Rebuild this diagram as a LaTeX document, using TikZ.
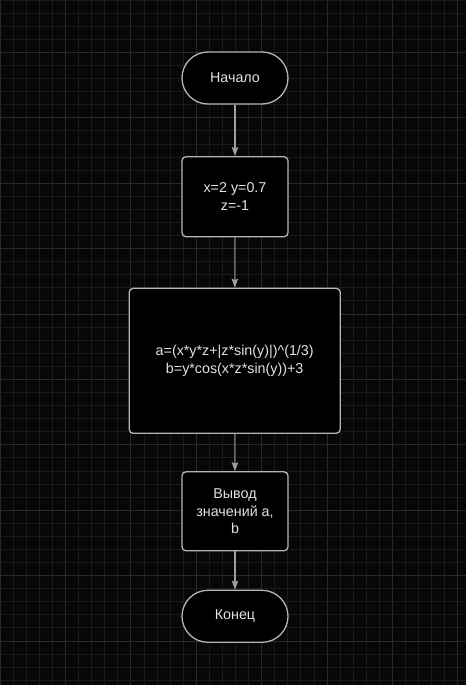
\documentclass[tikz,border=0pt]{standalone}
\usepackage{fontspec}
\setmainfont{Liberation Sans}
\usetikzlibrary{arrows.meta}

\definecolor{bgcol}{HTML}{070707}
\definecolor{gridminor}{HTML}{1A1A1A}
\definecolor{gridmajor}{HTML}{2A2A2A}
\definecolor{edgecol}{HTML}{B4B4B4}
\definecolor{linecol}{HTML}{A0A0A0}
\definecolor{txtcol}{HTML}{E2E2E2}

\tikzset{
  block/.style={draw=edgecol, line width=1.3pt, fill=black,
    text=txtcol, align=center,
    font=\fontsize{14.3}{17.4}\selectfont},
  terminal/.style={block, rounded corners=26pt,
    minimum width=106pt, minimum height=52pt},
  process/.style={block, rounded corners=4pt},
  flow/.style={draw=linecol, line width=1.1pt,
    -{Stealth[length=9pt,width=6.5pt,inset=1.5pt]}}
}

\begin{document}
\begin{tikzpicture}[x=1pt,y=-1pt]

  % 背景とグリッド
  \fill[bgcol] (0,0) rectangle (466,685);
  \useasboundingbox (0,0) rectangle (466,685);
  \foreach \k in {0,...,35} {
    \pgfmathsetmacro{\gx}{13.08*\k}
    \pgfmathtruncatemacro{\m}{mod(\k,5)}
    \ifnum\m=0
      \draw[gridmajor,line width=0.8pt] (\gx,0) -- (\gx,685);
    \else
      \draw[gridminor,line width=0.7pt] (\gx,0) -- (\gx,685);
    \fi
  }
  \foreach \k in {0,...,52} {
    \pgfmathsetmacro{\gy}{13.08*\k}
    \pgfmathtruncatemacro{\m}{mod(\k,5)}
    \ifnum\m=4
      \draw[gridmajor,line width=0.8pt] (0,\gy) -- (466,\gy);
    \else
      \draw[gridminor,line width=0.7pt] (0,\gy) -- (466,\gy);
    \fi
  }

  % ブロック
  \node[terminal] (start) at (235,78) {Начало};

  \node[process, minimum width=106pt, minimum height=80pt]
    (init) at (235,196.7) {x=2 y=0.7\\z=-1};

  \node[process, minimum width=211pt, minimum height=145pt]
    (calc) at (234.7,360.8)
    {a=(x*y*z+|z*sin(y)|)\textasciicircum(1/3)\\b=y*cos(x*z*sin(y))+3};

  \node[process, minimum width=106pt, minimum height=79pt]
    (out) at (235,511.3) {Вывод\\значений a,\\b};

  \node[terminal] (stop) at (235,616.3) {Конец};

  % 矢印
  \draw[flow] (start) -- (init);
  \draw[flow] (init) -- (calc);
  \draw[flow] (calc) -- (out);
  \draw[flow] (out) -- (stop);

\end{tikzpicture}
\end{document}
